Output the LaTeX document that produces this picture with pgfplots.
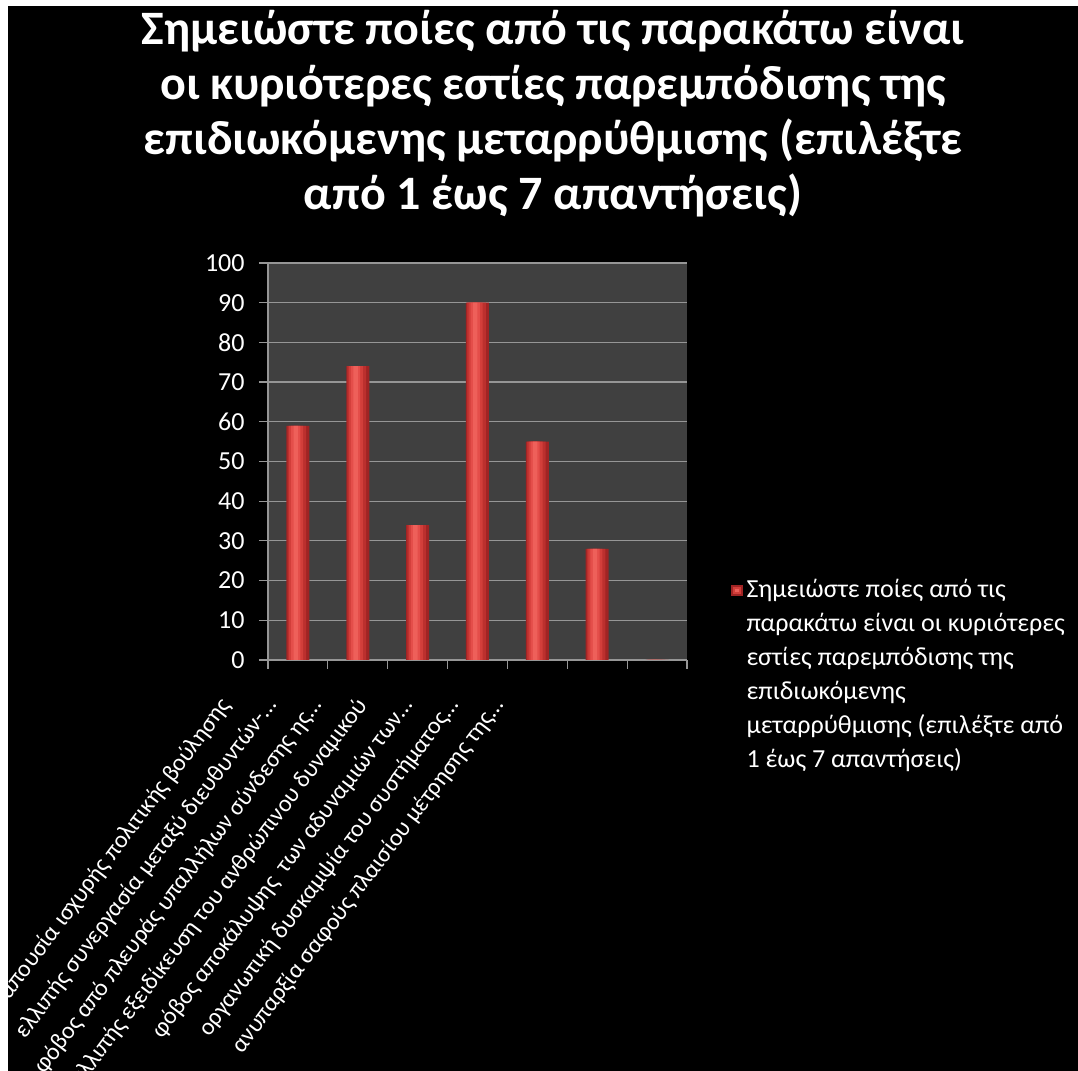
\documentclass[border=0pt]{standalone}
\usepackage{pgfplots}
\pgfplotsset{compat=1.18}
\usepackage{fontspec}
\setmainfont{Carlito}
\definecolor{barA}{RGB}{160,36,36}
\definecolor{barB}{RGB}{188,48,46}
\definecolor{barC}{RGB}{210,62,58}
\definecolor{barD}{RGB}{228,78,74}
\definecolor{barE}{RGB}{238,96,90}
\definecolor{plotbg}{RGB}{64,64,64}
\definecolor{gridc}{RGB}{150,150,150}
\pgfplotstableread{
x y
0 59
1 74
2 34
3 90
4 55
5 28
6 0
}\datatab
\begin{document}
\begin{tikzpicture}
\clip (0,0) rectangle (539pt,535.5pt);
\fill[white] (0,0) rectangle (539pt,535.5pt);
\fill[black] (4pt,0) rectangle (539pt,532.5pt);
\node[text=white, font=\bfseries\fontsize{24}{27.5}\selectfont, align=center, anchor=base] at (276.5pt,430.5pt)
 {Σημειώστε ποίες από τις παρακάτω είναι\\οι κυριότερες εστίες παρεμπόδισης της\\επιδιωκόμενης μεταρρύθμισης (επιλέξτε\\από 1 έως 7 απαντήσεις)};
\begin{axis}[
  at={(134pt,205.5pt)}, anchor=south west,
  scale only axis, width=209.5pt, height=198.5pt,
  xmin=-0.5, xmax=6.5, ymin=0, ymax=100,
  axis background/.style={fill=plotbg},
  axis x line*=bottom, axis y line*=left,
  axis line style={draw=gridc, line width=0.6pt, -},
  ytick={0,10,...,100},
  /pgf/number format/assume math mode=true,
  ymajorgrids, major grid style={draw=gridc, line width=0.6pt},
  xtick={-0.5,0.5,...,6.5},
  xticklabels={απουσία ισχυρής πολιτικής βούλησης,
    ελλιπής συνεργασία μεταξύ διευθυντών-…,
    φόβος από πλευράς υπαλλήλων σύνδεσης ης…,
    ελλιπής εξειδίκευση του ανθρώπινου δυναμικού,
    φόβος αποκάλυψης\ \ των αδυναμιών των…,
    οργανωτική δυσκαμψία του συστήματος…,
    ανυπαρξία σαφούς πλαισίου μέτρησης της…,{}},
  tick align=outside, major tick length=4.5pt,
  tick style={draw=gridc, line width=0.6pt},
  yticklabel style={text=white, font=\fontsize{13}{15}\selectfont, anchor=east, inner sep=0pt, xshift=-7pt},
  xticklabel style={xshift={-(25+7.15*\ticknum)*1pt}, yshift=-13pt, rotate=53, anchor=north east, inner sep=0pt, text=white, font=\fontsize{12}{14}\selectfont},
  legend style={at={(1.104,0.214)}, anchor=north west, draw=none, fill=none, text=white, inner sep=0pt,
    font=\fontsize{13}{17}\selectfont, cells={align=left}},
  legend image code/.code={\fill[barA] (0pt,39.3pt) rectangle (5.8pt,45.1pt);
    \fill[barC] (1pt,40.3pt) rectangle (4.8pt,44.1pt);
    \fill[barE] (2pt,41.3pt) rectangle (3.8pt,43.1pt);},
]
\addplot[ybar, bar width=11.5pt, bar shift=0pt, draw=none, fill=barA] table[x=x,y=y] {\datatab};
\addlegendentry{Σημειώστε ποίες από τις\\παρακάτω είναι οι κυριότερες\\εστίες παρεμπόδισης της\\επιδιωκόμενης\\μεταρρύθμισης (επιλέξτε από\\1 έως 7 απαντήσεις)}
\addplot[ybar, bar width=9.3pt, bar shift=-0.5pt, draw=none, fill=barB, forget plot] table[x=x,y=y] {\datatab};
\addplot[ybar, bar width=7pt, bar shift=-0.9pt, draw=none, fill=barC, forget plot] table[x=x,y=y] {\datatab};
\addplot[ybar, bar width=4.6pt, bar shift=-1.1pt, draw=none, fill=barD, forget plot] table[x=x,y=y] {\datatab};
\addplot[ybar, bar width=2.2pt, bar shift=-1.1pt, draw=none, fill=barE, forget plot] table[x=x,y=y] {\datatab};
\end{axis}
\end{tikzpicture}
\end{document}
